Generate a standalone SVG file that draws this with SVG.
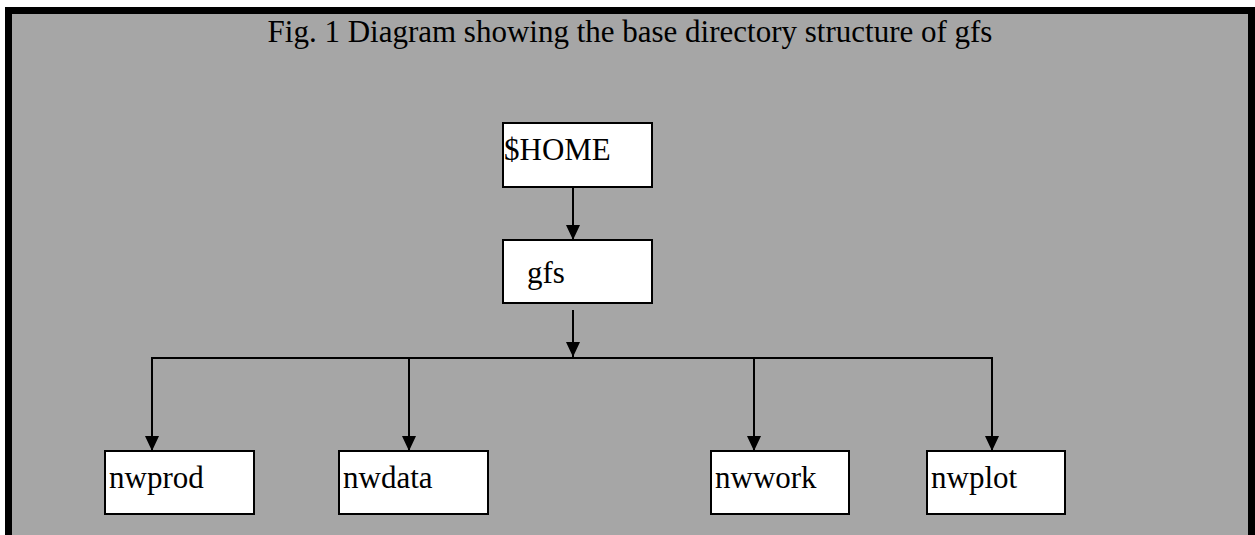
<svg xmlns="http://www.w3.org/2000/svg" width="1255" height="535" viewBox="0 0 1255 535">
<style>
.box{fill:#ffffff;stroke:#000000;stroke-width:2}
.lbl{font-family:"Liberation Serif","Times New Roman",serif;font-size:31px;fill:#000000}
.conn{fill:none;stroke:#000000;stroke-width:2}
</style>
<defs>
<marker id="ah" viewBox="0 0 15 14" refX="15" refY="7" markerWidth="15" markerHeight="14" markerUnits="userSpaceOnUse" orient="auto">
<path d="M0,0 L15,7 L0,14 Z" fill="#000000"/>
</marker>
</defs>
<rect x="8.5" y="10.5" width="1243" height="540" fill="#a6a6a6" stroke="#000000" stroke-width="7"/>
<text class="lbl" x="630" y="42" text-anchor="middle">Fig. 1 Diagram showing the base directory structure of gfs</text>
<g id="connectors">
<line class="conn" x1="573" y1="187" x2="573" y2="240" marker-end="url(#ah)"/>
<line class="conn" x1="573" y1="310" x2="573" y2="357" marker-end="url(#ah)"/>
<polyline class="conn" points="152,451 152,358 992,358 992,451" marker-end="url(#ah)"/>
<line class="conn" x1="152" y1="358" x2="152" y2="451" marker-end="url(#ah)"/>
<line class="conn" x1="409" y1="358" x2="409" y2="451" marker-end="url(#ah)"/>
<line class="conn" x1="754" y1="358" x2="754" y2="451" marker-end="url(#ah)"/>
</g>
<g id="node-home">
<rect class="box" x="503" y="123" width="149" height="64"/>
<text class="lbl" x="504" y="160">$HOME</text>
</g>
<g id="node-gfs">
<rect class="box" x="503" y="240" width="149" height="63"/>
<text class="lbl" x="527" y="283">gfs</text>
</g>
<g id="node-nwprod">
<rect class="box" x="105" y="451" width="149" height="63"/>
<text class="lbl" x="109" y="488">nwprod</text>
</g>
<g id="node-nwdata">
<rect class="box" x="339" y="451" width="149" height="63"/>
<text class="lbl" x="343" y="488">nwdata</text>
</g>
<g id="node-nwwork">
<rect class="box" x="711" y="451" width="138" height="63"/>
<text class="lbl" x="715" y="488">nwwork</text>
</g>
<g id="node-nwplot">
<rect class="box" x="927" y="451" width="138" height="63"/>
<text class="lbl" x="931" y="488">nwplot</text>
</g>
</svg>
